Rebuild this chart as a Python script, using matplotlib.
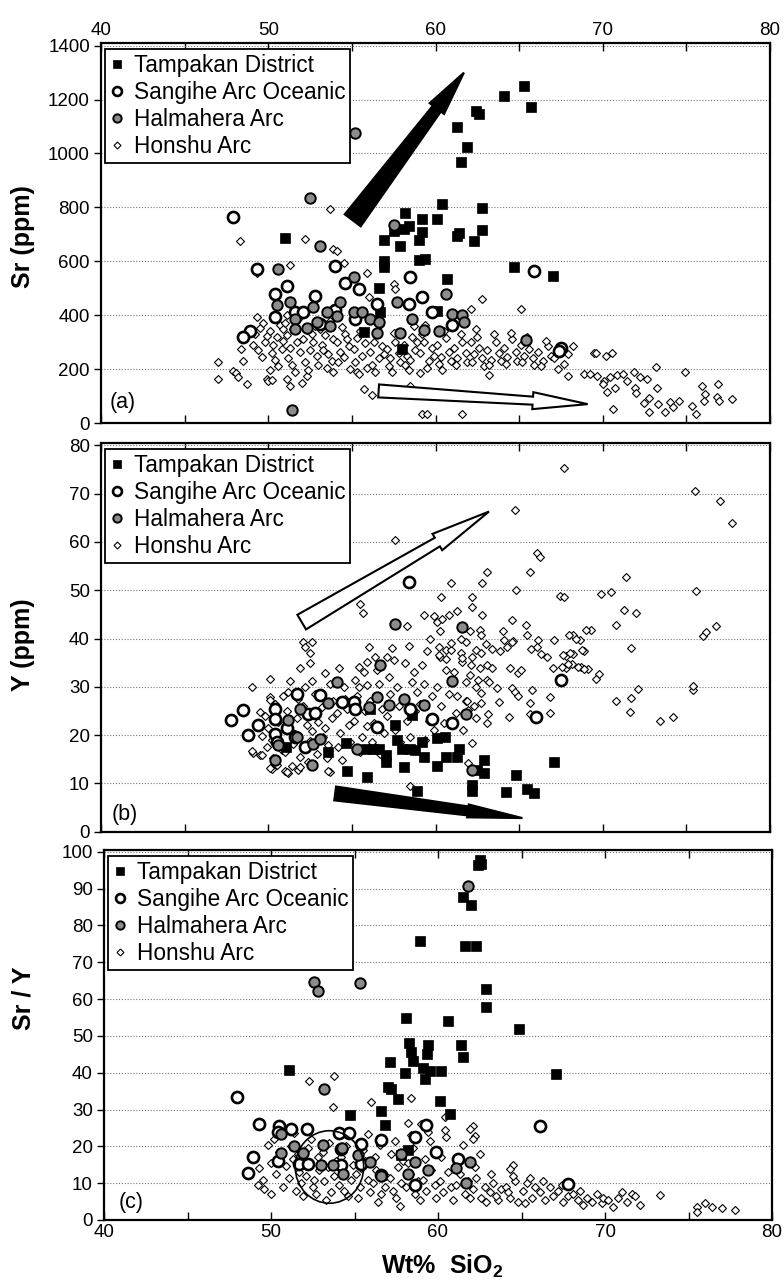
import numpy as np
import matplotlib
matplotlib.use("Agg")
import matplotlib.pyplot as plt
from matplotlib.patches import Polygon, Ellipse
from matplotlib.ticker import MultipleLocator

plt.rcParams['font.family'] = ['Liberation Sans', 'DejaVu Sans']
plt.rcParams['mathtext.fontset'] = 'custom'
plt.rcParams['mathtext.rm'] = 'Liberation Sans'
plt.rcParams['mathtext.bf'] = 'Liberation Sans:bold'

SERIES = ["Tampakan District", "Sangihe Arc Oceanic", "Halmahera Arc", "Honshu Arc"]
X_TICKS = [40, 50, 60, 70, 80]

# ---------------- Panel (a): Sr (ppm) ----------------
TAMP_A_X = [65.3, 64.1, 65.7, 62.4, 62.6, 61.3, 61.9, 61.5, 60.4, 62.8, 58.2, 60.1, 59.2, 58.4, 58.1,
            59.2, 57.5, 62.8, 61.4, 61.3, 56.9, 59.0, 62.3, 57.9, 51.0, 59.4, 59.0, 56.9, 56.9, 60.7,
            64.7, 67.0, 56.6, 56.7, 60.1, 55.7, 58.0]
TAMP_A_Y = [1249, 1212, 1171, 1156, 1146, 1100, 1025, 967, 812, 798, 780, 757, 757, 731, 721,
            709, 713, 715, 706, 694, 678, 680, 675, 658, 688, 610, 603, 600, 579, 535,
            580, 546, 500, 411, 417, 336, 274]
SANG_A_X = [47.9, 49.3, 58.5, 54.0, 51.1, 50.4, 52.8, 55.4, 54.6, 65.9, 58.4, 59.2, 56.5, 54.0, 51.6,
            52.1, 50.4, 55.2, 59.8, 61.0, 53.1, 48.9, 48.5, 67.5, 67.4]
SANG_A_Y = [765, 572, 541, 582, 510, 479, 473, 498, 520, 564, 442, 467, 442, 420, 413,
            411, 392, 386, 413, 364, 367, 343, 318, 277, 268]
HALM_A_X = [55.2, 52.5, 53.1, 57.5, 50.6, 55.1, 60.6, 54.3, 50.5, 51.3, 52.7, 53.5, 55.1, 55.6, 56.1,
            57.7, 58.6, 61.0, 61.6, 61.7, 51.6, 51.6, 52.3, 53.7, 54.1, 56.6, 56.5, 57.9, 59.3, 60.2,
            65.4, 51.4, 52.9]
HALM_A_Y = [1075, 836, 655, 734, 572, 541, 479, 448, 436, 448, 430, 413, 411, 413, 386,
            448, 386, 405, 401, 374, 386, 349, 351, 361, 398, 374, 334, 334, 346, 343,
            309, 47, 374]
HON_A_X = [47.0, 47.0, 47.9, 48.1, 48.2, 48.4, 48.5, 49.1, 48.7, 49.9, 50.0, 50.2, 51.1, 51.3, 52.0,
           52.3, 55.7, 56.2, 48.3, 52.2, 53.7, 53.9, 54.1, 54.5, 51.3, 55.9, 57.5, 57.6, 56.0, 51.1,
           62.8, 62.1, 65.1, 59.1, 63.2, 67.9, 58.5, 59.2, 59.5, 61.6, 49.3, 53.9, 55.3,
           49.2, 49.5, 49.8, 49.4, 49.9, 49.6, 49.3, 49.7,
           50.1, 50.3, 50.5, 50.2, 50.7, 50.9, 50.4, 50.8, 50.6, 50.1, 50.9,
           51.1, 51.3, 51.5, 51.2, 51.7, 51.9, 51.4, 51.8, 51.6, 51.0,
           52.1, 52.3, 52.5, 52.2, 52.7, 52.9, 52.4, 52.8, 52.6, 53.0,
           53.2, 53.4, 53.6, 53.1, 53.8, 53.5, 53.9, 53.3, 53.7,
           54.1, 54.3, 54.6, 54.2, 54.8, 54.5, 54.9, 54.4, 54.7,
           55.1, 55.3, 55.6, 55.2, 55.8, 55.5, 55.9, 55.4,
           56.1, 56.3, 56.6, 56.2, 56.8, 56.5, 56.9, 56.4, 56.7,
           57.1, 57.3, 57.6, 57.2, 57.8, 57.5, 57.9, 57.4,
           58.1, 58.3, 58.6, 58.2, 58.8, 58.5, 58.9, 58.4, 58.7,
           59.1, 59.3, 59.6, 59.2, 59.8, 59.5, 59.9, 59.4,
           60.1, 60.3, 60.6, 60.2, 60.8, 60.5, 60.9, 60.4,
           61.1, 61.3, 61.6, 61.2, 61.8, 61.5, 61.9,
           62.1, 62.3, 62.6, 62.2, 62.8, 62.5, 62.9, 62.4,
           63.1, 63.3, 63.6, 63.2, 63.8, 63.5, 63.9,
           64.1, 64.3, 64.6, 64.2, 64.8, 64.5, 64.9,
           65.1, 65.3, 65.6, 65.2, 65.8, 65.5, 65.9,
           66.1, 66.4, 66.7, 66.3, 66.9, 66.6,
           67.1, 67.4, 67.7, 67.3, 67.9, 68.2,
           69.45, 69.6, 70.2, 70.56, 73.2, 74.93, 68.85, 69.25, 69.65, 70.05, 70.45, 70.84, 71.24,
           71.44, 71.84, 72.24, 72.64, 70.0, 70.25, 70.74, 71.94, 72.0, 73.24, 72.44, 72.74, 73.33,
           74.03, 74.53, 74.23, 72.74, 73.73, 75.33, 75.59, 75.93, 76.13, 76.03, 76.92, 76.82,
           76.98, 77.72, 70.6]
HON_A_Y = [225, 165, 194, 187, 169, 274, 231, 289, 144, 163, 157, 160, 163, 138, 150,
           175, 125, 103, 674, 682, 793, 645, 638, 595, 587, 558, 517, 498, 467, 399,
           461, 424, 424, 184, 179, 175, 138, 32, 32, 32, 555, 188, 188,
           330, 352, 300, 270, 322, 245, 395, 372,
           340, 290, 318, 260, 365, 305, 235, 275, 210, 198, 348,
           325, 280, 350, 240, 300, 262, 215, 385, 190, 370,
           310, 345, 270, 228, 300, 250, 198, 360, 330, 215,
           290, 325, 255, 350, 230, 205, 310, 270, 380,
           300, 265, 330, 225, 285, 245, 200, 355, 310,
           275, 315, 250, 228, 295, 340, 205, 180,
           265, 300, 240, 215, 285, 330, 255, 190, 365,
           275, 240, 300, 210, 260, 335, 225, 190,
           290, 250, 320, 215, 270, 235, 300, 195, 360,
           260, 300, 230, 330, 280, 205, 250, 365,
           290, 245, 315, 220, 265, 340, 230, 195,
           280, 240, 300, 215, 260, 330, 225,
           300, 255, 280, 225, 240, 320, 210, 350,
           270, 235, 300, 215, 260, 330, 230,
           280, 245, 310, 220, 265, 335, 230,
           290, 250, 275, 225, 240, 320, 215,
           265, 230, 285, 210, 250, 305,
           240, 270, 220, 200, 255, 285,
           259, 259, 249, 259, 208, 191, 181, 183, 175, 156, 169, 179, 183,
           156, 191, 169, 162, 144, 116, 129, 131, 113, 129, 75, 94, 72,
           79, 82, 59, 42, 41, 63, 34, 138, 106, 82, 144, 97,
           82, 88, 51]

# ---------------- Panel (b): Y (ppm) ----------------
TAMP_B_X = [67.06, 62.9, 62.9, 62.2, 62.2, 64.8, 64.2, 65.5, 65.9, 58.9, 55.9, 54.7, 58.1, 60.1, 60.6,
            61.4, 61.3, 62.5, 59.3, 58.5, 58.8, 58.0, 57.7, 57.05, 57.05, 56.65, 56.26, 55.86, 54.67, 53.55,
            51.09, 60.56, 60.1, 59.2, 57.6, 56.1, 58.6]
TAMP_B_Y = [14.35, 14.8, 12.1, 9.65, 8.4, 11.7, 8.1, 8.8, 7.9, 8.4, 11.4, 12.5, 13.4, 13.6, 15.5,
            17.1, 15.5, 12.8, 15.5, 17.2, 16.9, 17.2, 18.9, 15.9, 14.5, 17.2, 17.2, 17.2, 18.3, 16.4,
            17.6, 19.7, 19.3, 18.6, 22.1, 25.5, 24.1]
SANG_B_X = [47.8, 48.5, 48.8, 49.4, 50.4, 50.4, 51.1, 51.7, 52.4, 53.1, 52.8, 52.2, 51.6, 50.4, 50.5,
            54.4, 55.1, 55.2, 56.5, 58.5, 59.8, 61.0, 58.4, 67.5, 66.0]
SANG_B_Y = [23.1, 25.2, 20.1, 22.1, 25.5, 23.4, 21.5, 28.6, 24.3, 28.4, 24.5, 17.6, 19.7, 20.3, 18.6,
            26.9, 26.9, 25.3, 21.7, 25.4, 23.4, 22.6, 51.7, 31.4, 23.7]
HALM_B_X = [57.6, 61.6, 56.7, 54.1, 61.0, 56.5, 58.1, 57.2, 59.3, 61.8, 53.6, 51.9, 51.2, 50.6, 51.7,
            52.7, 53.1, 55.3, 56.0, 50.4, 52.6, 62.2]
HALM_B_Y = [43.0, 42.4, 34.5, 30.9, 31.2, 27.9, 27.5, 26.3, 26.2, 24.3, 26.7, 25.4, 23.1, 17.9, 19.5,
            18.1, 19.2, 17.2, 25.9, 14.8, 13.8, 12.8]
HON_B_X = [67.7, 75.5, 77.0, 77.7, 64.75, 57.6, 66.05, 66.25, 63.1, 65.65, 60.9, 62.8, 64.8, 67.45, 60.3,
           62.2, 62.2, 59.3, 59.9, 60.07, 60.8, 61.3, 62.8, 64.55, 65.4, 58.3, 60.27, 62.06, 62.66, 62.7,
           64.06, 64.1, 64.66, 65.45, 66.15, 67.1, 63.0, 63.4, 63.86, 64.26, 64.56, 65.7, 66.05, 66.3, 66.65,
           61.8, 62.4, 60.2, 60.6, 60.9, 60.27, 60.6, 61.5, 61.6, 62.2, 62.66, 63.06, 63.4, 62.06, 62.56,
           63.06, 63.2, 63.66, 64.45, 64.95, 65.1, 64.56, 64.75, 64.95, 65.75, 65.65, 66.85, 66.85, 62.7,
           62.7, 63.8, 63.16, 63.06, 62.4, 64.4, 65.65, 61.8, 61.96, 61.66, 62.16, 61.96, 58.48,
           71.4, 69.9, 70.5, 75.6, 71.3, 72.0, 70.8, 69.3, 68.25, 68.65, 71.7, 67.8, 68.25, 68.9, 67.8,
           68.15, 68.7, 69.1, 69.75, 69.6, 72.1, 71.7, 70.8, 71.6, 73.4, 75.4, 76.0, 76.2, 76.8, 67.7,
           68.0, 68.4, 67.65, 68.05, 68.75, 69.0, 67.95, 67.55, 67.05, 68.5, 68.9, 75.4, 74.2,
           55.5, 55.65, 52.1, 52.6, 52.2, 52.5, 51.9, 52.5, 49.05, 50.1, 51.3, 52.6, 53.4, 54.25, 56.05,
           55.9, 55.75, 57.1, 50.1, 49.5, 49.1, 49.5, 49.9, 50.2, 51.0, 51.2, 51.8, 53.7, 55.4, 55.9,
           49.0, 49.6, 50.1, 51.1, 51.9, 53.55,
           49.8, 50.0, 50.2, 50.4, 50.6, 50.8, 50.3, 50.9, 50.5, 50.1, 49.6,
           51.1, 51.3, 51.5, 51.2, 51.7, 51.9, 51.4, 51.8, 51.6, 51.0,
           52.1, 52.3, 52.5, 52.2, 52.7, 52.9, 52.4, 52.8, 52.6, 53.0,
           53.2, 53.4, 53.6, 53.1, 53.8, 53.5, 53.9, 53.3, 53.7,
           54.1, 54.3, 54.6, 54.2, 54.8, 54.5, 54.9, 54.4, 54.7,
           55.1, 55.3, 55.6, 55.2, 55.8, 55.5, 55.9, 55.4,
           56.1, 56.3, 56.6, 56.2, 56.8, 56.5, 56.9, 56.4, 56.7,
           57.1, 57.3, 57.6, 57.2, 57.8, 57.5, 57.9, 57.4, 57.7,
           58.1, 58.3, 58.6, 58.2, 58.8, 58.5, 58.9, 58.4, 58.7,
           59.1, 59.3, 59.6, 59.2, 59.8, 59.5, 59.9, 59.4, 59.7,
           60.1, 60.3, 60.6, 60.2, 60.8, 60.5, 60.9, 60.4,
           61.1, 61.3, 61.6, 61.2, 61.8, 61.5, 61.9,
           62.1, 62.4, 62.7, 62.3]
HON_B_Y = [75.4, 70.5, 68.4, 63.9, 66.7, 60.5, 57.7, 56.9, 53.8, 53.8, 51.5, 51.5, 50.0, 48.8, 48.6,
           48.5, 46.6, 44.8, 44.6, 43.5, 44.8, 45.7, 44.8, 43.8, 42.8, 42.6, 41.6, 41.6, 41.7, 40.7,
           41.6, 39.7, 39.5, 40.7, 39.7, 39.7, 38.8, 37.9, 37.5, 38.3, 39.3, 37.8, 38.3, 36.7, 36.2,
           39.3, 37.7, 38.3, 37.7, 37.6, 36.2, 35.7, 36.9, 35.2, 36.1, 33.8, 34.5, 33.8, 32.4, 31.5,
           31.4, 31.0, 29.7, 33.8, 32.8, 33.5, 29.7, 29.0, 28.0, 29.3, 26.6, 27.8, 24.6, 28.8,
           26.6, 26.9, 24.4, 22.4, 23.5, 23.8, 24.3, 27.1, 25.2, 21.0, 18.3, 14.3, 9.5,
           52.8, 49.3, 49.7, 49.9, 45.9, 45.2, 42.7, 41.7, 40.7, 39.6, 38.0, 36.4, 36.8, 37.4, 33.9,
           34.7, 34.0, 33.6, 32.6, 31.6, 29.5, 27.7, 27.1, 24.7, 23.0, 29.3, 40.5, 41.4, 42.6, 48.5,
           40.8, 39.8, 36.6, 37.0, 37.6, 41.7, 34.8, 34.0, 33.8, 34.0, 33.7, 30.1, 23.8,
           47.2, 45.2, 39.3, 39.3, 38.3, 37.0, 33.8, 35.0, 29.9, 31.7, 31.2, 31.2, 32.9, 33.9, 38.3,
           35.2, 33.1, 36.2, 27.9, 24.8, 16.3, 15.9, 17.6, 12.9, 12.5, 12.2, 12.7, 12.4, 30.0, 30.3,
           16.7, 15.9, 13.1, 12.4, 13.3, 12.5,
           24.0, 21.5, 19.0, 26.5, 22.8, 17.0, 15.2, 28.0, 13.8, 27.2, 19.8,
           25.0, 21.0, 18.2, 29.0, 23.5, 15.5, 13.5, 27.5, 20.2, 16.5,
           26.0, 22.0, 18.8, 30.0, 24.2, 16.0, 14.5, 28.5, 20.8, 22.8,
           25.8, 21.5, 18.0, 28.2, 23.5, 15.2, 27.0, 19.5, 30.5,
           24.5, 20.5, 27.5, 17.5, 22.0, 30.0, 18.5, 14.8, 25.5,
           23.0, 28.0, 19.5, 31.5, 25.0, 16.5, 21.8, 34.0,
           27.0, 22.5, 30.5, 18.5, 25.5, 33.5, 20.5, 36.2, 16.0,
           24.0, 28.5, 21.0, 32.0, 26.0, 35.5, 18.5, 38.0, 30.0,
           27.5, 23.0, 31.0, 35.0, 25.0, 19.5, 29.0, 38.5, 33.0,
           26.5, 30.5, 23.0, 34.5, 28.0, 37.5, 21.0, 19.0, 40.0,
           30.0, 26.0, 33.5, 36.5, 28.5, 22.5, 39.0, 44.0,
           33.0, 28.0, 36.0, 24.5, 31.0, 40.0, 27.0,
           34.5, 30.0, 37.0, 26.0]

# ---------------- Panel (c): Sr / Y ----------------
TAMP_C_X = [62.5, 62.6, 62.4, 61.5, 62.0, 58.9, 61.6, 62.3, 62.9, 62.9, 58.1, 60.6, 64.85, 58.25, 61.4,
            59.4, 59.35, 58.4, 58.5, 61.5, 57.1, 59.1, 59.5, 58.0, 60.2, 67.05, 51.1, 59.2, 57.0, 57.2,
            57.6, 60.1, 56.6, 60.7, 54.75, 56.8, 58.2, 57.8]
TAMP_C_Y = [97.7, 96.8, 96.4, 87.8, 85.6, 75.7, 74.5, 74.5, 62.8, 57.9, 55.0, 54.1, 52.0, 48.0, 47.6,
            47.6, 45.0, 45.5, 43.2, 44.3, 42.8, 41.2, 40.5, 39.8, 40.5, 39.6, 40.7, 38.3, 36.2, 35.6,
            32.9, 32.4, 29.7, 28.8, 28.6, 25.9, 18.9, 17.6]
SANG_C_X = [47.96, 49.3, 50.5, 50.4, 51.2, 52.15, 54.06, 54.67, 54.2, 55.4, 56.6, 58.6, 59.3, 59.9, 66.1,
            48.9, 48.6, 50.4, 51.7, 52.2, 55.4, 54.2, 61.2, 56.6, 58.6, 67.8]
SANG_C_Y = [33.5, 26.1, 25.4, 23.9, 24.8, 24.8, 23.6, 23.6, 19.4, 20.7, 21.6, 22.5, 25.9, 18.5, 25.5,
            17.1, 12.8, 16.0, 15.1, 15.3, 15.3, 14.9, 16.7, 12.2, 9.5, 9.7]
HALM_C_X = [61.8, 52.6, 52.8, 55.3, 53.2, 51.35, 50.6, 51.9, 53.1, 54.25, 55.2, 55.9, 57.8, 58.6, 61.9,
            53.0, 53.7, 54.3, 56.6, 58.2, 59.4, 61.1, 61.7, 50.6]
HALM_C_Y = [90.7, 64.7, 62.2, 64.5, 35.5, 20.0, 18.2, 18.2, 20.5, 19.6, 17.6, 15.8, 18.0, 15.8, 15.8,
            15.0, 14.9, 12.6, 11.9, 12.6, 13.7, 14.0, 10.1, 23.4]
HON_C_X = [49.0, 49.3, 49.5, 49.8, 49.2, 50.0, 50.3, 50.5, 50.2, 50.7, 50.9, 50.6, 49.6,
           51.1, 51.3, 51.5, 51.2, 51.7, 51.9, 51.4, 51.8, 51.6,
           52.1, 52.3, 52.5, 52.2, 52.7, 52.9, 52.4, 52.8, 52.6,
           53.2, 53.4, 53.6, 53.1, 53.8, 53.5, 53.9, 53.3,
           54.1, 54.3, 54.6, 54.2, 54.8, 54.5, 54.9, 54.4,
           55.1, 55.3, 55.6, 55.2, 55.8, 55.5, 55.9, 55.4,
           56.1, 56.3, 56.6, 56.2, 56.8, 56.5, 56.9, 56.4,
           57.1, 57.3, 57.6, 57.2, 57.8, 57.5, 57.9, 57.4,
           58.1, 58.3, 58.6, 58.2, 58.8, 58.5, 58.9, 58.4,
           59.1, 59.3, 59.6, 59.2, 59.8, 59.5, 59.9, 59.4,
           60.1, 60.3, 60.6, 60.2, 60.8, 60.5, 60.9, 60.4,
           61.1, 61.3, 61.6, 61.2, 61.8, 61.5, 61.9,
           62.1, 62.3, 62.6, 62.2, 62.8, 62.5, 62.9,
           63.1, 63.3, 63.6, 63.2, 63.8, 63.5,
           64.1, 64.3, 64.6, 64.2, 64.8, 64.5,
           65.1, 65.3, 65.6, 65.2, 65.8, 65.5,
           66.1, 66.4, 66.7, 66.3, 66.9,
           67.2, 67.5, 67.8, 67.4,
           68.1, 68.4, 68.7, 68.5, 68.9,
           69.2, 69.5, 69.8, 69.9,
           70.2, 70.5, 70.8, 71.0, 71.3, 71.6, 71.8, 72.1,
           52.3, 53.8, 53.7, 56.0, 58.4, 58.2, 60.4, 62.1, 62.2, 55.8, 64.5, 73.3, 75.5, 76.0, 76.4,
           77.0, 77.8, 75.5, 59.0, 50.0, 57.7, 61.9, 62.07, 64.3]
HON_C_Y = [17.5, 14.0, 11.0, 20.5, 9.5, 15.5, 12.5, 18.5, 22.0, 9.0, 14.8, 26.0, 8.5,
           11.5, 16.5, 8.0, 20.0, 13.0, 6.5, 23.5, 10.0, 18.0,
           12.0, 15.5, 9.0, 19.5, 7.0, 13.5, 22.0, 17.0, 11.0,
           10.5, 14.5, 7.5, 18.5, 12.0, 21.0, 16.0, 5.5,
           9.5, 13.0, 6.5, 17.0, 11.0, 20.0, 15.0, 8.0,
           12.5, 9.0, 16.0, 6.0, 11.0, 19.0, 7.5, 14.0,
           10.0, 13.5, 7.0, 17.0, 9.0, 20.5, 12.0, 5.0,
           11.5, 8.0, 14.5, 18.0, 10.0, 6.0, 16.0, 21.5,
           9.0, 12.5, 7.0, 15.5, 10.5, 19.5, 5.5, 23.0,
           11.0, 8.0, 13.5, 16.5, 9.5, 21.5, 6.0, 24.0,
           10.5, 7.5, 13.0, 17.0, 9.0, 22.5, 5.5, 24.5,
           9.5, 12.5, 7.0, 16.0, 10.5, 20.5, 6.0,
           8.5, 11.5, 6.0, 14.5, 9.0, 18.0, 5.0,
           7.5, 10.0, 5.5, 12.5, 8.5, 6.5,
           9.0, 6.0, 10.5, 7.5, 5.0, 12.0,
           8.0, 10.0, 6.0, 4.5, 9.0, 11.5,
           7.5, 5.5, 9.0, 10.5, 6.5,
           8.0, 5.0, 6.5, 9.5,
           7.0, 5.5, 4.0, 8.0, 6.0,
           5.0, 7.0, 4.5, 6.0,
           5.5, 3.5, 6.0, 7.5, 5.0, 7.0, 6.5, 4.0,
           37.8, 39.2, 30.6, 32.0, 33.1, 26.3, 28.1, 25.4, 22.7, 23.4, 14.9, 6.8, 3.6, 4.5, 3.6,
           3.2, 2.7, 2.3, 26.0, 7.0, 3.7, 24.6, 21.9, 13.8]

# Annotation geometry (data coords): start, end
ARROW_A_BLACK = ((55.05, 752), (61.7, 1300))
ARROW_A_WHITE = ((56.6, 119), (69.1, 70))
ARROW_B_WHITE = ((52.0, 43.4), (63.2, 66.3))
ARROW_B_BLACK = ((54.0, 7.9), (65.2, 2.8))
CIRCLE_C = (53.5, 14.4)

W, H = 784, 1282
fig = plt.figure(figsize=(W / 100, H / 100), dpi=100)


def frac_axes(left, top, right, bottom):
    return fig.add_axes([left / W, 1 - bottom / H, (right - left) / W, (bottom - top) / H])


ax_a = frac_axes(101, 43, 770, 423)
ax_b = frac_axes(101, 443, 770, 831.6)
ax_c = frac_axes(104, 850, 772, 1220)

TICK_FS = 13.5


def style(ax, ylim, ystep, labeltop=False, labelbottom=False):
    ax.set_xlim(40, 80)
    ax.set_ylim(*ylim)
    ax.xaxis.set_major_locator(MultipleLocator(10))
    ax.xaxis.set_minor_locator(MultipleLocator(5))
    ax.yaxis.set_major_locator(MultipleLocator(ystep))
    ax.set_xticks(X_TICKS)
    ax.tick_params(axis='x', which='both', direction='in', top=True, bottom=True,
                   length=6, width=1.0, labeltop=labeltop, labelbottom=labelbottom,
                   labelsize=TICK_FS, pad=3)
    ax.tick_params(axis='y', which='both', direction='out', left=True, right=False,
                   length=5, width=1.0, labelsize=TICK_FS, pad=3)
    ax.grid(axis='y', linestyle=(0, (1, 1.6)), color='#777777', linewidth=0.8)
    ax.set_axisbelow(True)
    for s in ax.spines.values():
        s.set_linewidth(1.6)


def scatter_all(ax, tx, ty, sx, sy, hx, hy, nx, ny):
    h_hon, = ax.plot(nx, ny, linestyle='none', marker='D', markersize=4.4, mfc='white',
                     mec='black', mew=0.8, zorder=3)
    h_tamp, = ax.plot(tx, ty, linestyle='none', marker='s', markersize=7.5, mfc='black',
                      mec='black', mew=0.5, zorder=4)
    h_sang, = ax.plot(sx, sy, linestyle='none', marker='o', markersize=8.0, mfc='white',
                      mec='black', mew=1.9, zorder=4)
    h_halm, = ax.plot(hx, hy, linestyle='none', marker='o', markersize=7.5, mfc='#8c8c8c',
                      mec='black', mew=1.4, zorder=5)
    leg = ax.legend([h_tamp, h_sang, h_halm, h_hon], SERIES, loc='upper left',
                    bbox_to_anchor=(0.006, 0.985), borderaxespad=0, fontsize=16.3,
                    handlelength=0.6, handletextpad=0.45, borderpad=0.22, labelspacing=0.18,
                    fancybox=False, framealpha=1, edgecolor='black', markerscale=0.8)
    leg.get_frame().set_linewidth(1.3)
    leg.set_zorder(10)


def arrow(ax, start, end, w0, wn, wh, hl, face):
    T = ax.transData
    p0 = np.array(T.transform(start))
    p1 = np.array(T.transform(end))
    d = p1 - p0
    u = d / np.hypot(*d)
    n = np.array([-u[1], u[0]])
    neck = p1 - u * hl
    pts = [p0 + n * w0, neck + n * wn, neck + n * wh, p1, neck - n * wh, neck - n * wn, p0 - n * w0]
    data = T.inverted().transform(np.array(pts))
    ax.add_patch(Polygon(data, closed=True, facecolor=face, edgecolor='black', lw=1.5,
                         zorder=6, joinstyle='miter'))


# Panel (a)
style(ax_a, (0, 1410), 200, labeltop=True)
scatter_all(ax_a, TAMP_A_X, TAMP_A_Y, SANG_A_X, SANG_A_Y, HALM_A_X, HALM_A_Y, HON_A_X, HON_A_Y)
ax_a.set_ylabel('Sr (ppm)', fontsize=18, fontweight='bold')
ax_a.yaxis.set_label_coords(-0.098, 0.49)
ax_a.text(0.013, 0.026, '(a)', transform=ax_a.transAxes, fontsize=15.5, ha='left', va='bottom')

# Panel (b)
style(ax_b, (0, 80.5), 10)
scatter_all(ax_b, TAMP_B_X, TAMP_B_Y, SANG_B_X, SANG_B_Y, HALM_B_X, HALM_B_Y, HON_B_X, HON_B_Y)
ax_b.set_ylabel('Y (ppm)', fontsize=18, fontweight='bold')
ax_b.yaxis.set_label_coords(-0.098, 0.48)
ax_b.text(0.016, 0.017, '(b)', transform=ax_b.transAxes, fontsize=15.5, ha='left', va='bottom')

# Panel (c)
style(ax_c, (0, 100.5), 10, labelbottom=True)
scatter_all(ax_c, TAMP_C_X, TAMP_C_Y, SANG_C_X, SANG_C_Y, HALM_C_X, HALM_C_Y, HON_C_X, HON_C_Y)
ax_c.set_ylabel('Sr / Y', fontsize=18, fontweight='bold')
ax_c.yaxis.set_label_coords(-0.103, 0.6)
ax_c.set_xlabel(r'Wt%  SiO$_{\mathbf{2}}$', fontsize=18, fontweight='bold')
ax_c.xaxis.set_label_coords(0.507, -0.09)
ax_c.text(0.022, 0.019, '(c)', transform=ax_c.transAxes, fontsize=15.5, ha='left', va='bottom')

# Annotations
arrow(ax_a, ARROW_A_BLACK[0], ARROW_A_BLACK[1], 10, 5, 9, 45, 'black')
arrow(ax_a, ARROW_A_WHITE[0], ARROW_A_WHITE[1], 6.5, 4.0, 8.5, 55, 'white')
arrow(ax_b, ARROW_B_WHITE[0], ARROW_B_WHITE[1], 8.5, 5.0, 9.5, 60, 'white')
arrow(ax_b, ARROW_B_BLACK[0], ARROW_B_BLACK[1], 7, 4.5, 6.5, 55, 'black')
ax_c.add_patch(Ellipse(CIRCLE_C, width=4.1, height=19.7, facecolor='none', edgecolor='black',
                       lw=1.2, zorder=6))

fig.savefig('out.png', dpi=100)
